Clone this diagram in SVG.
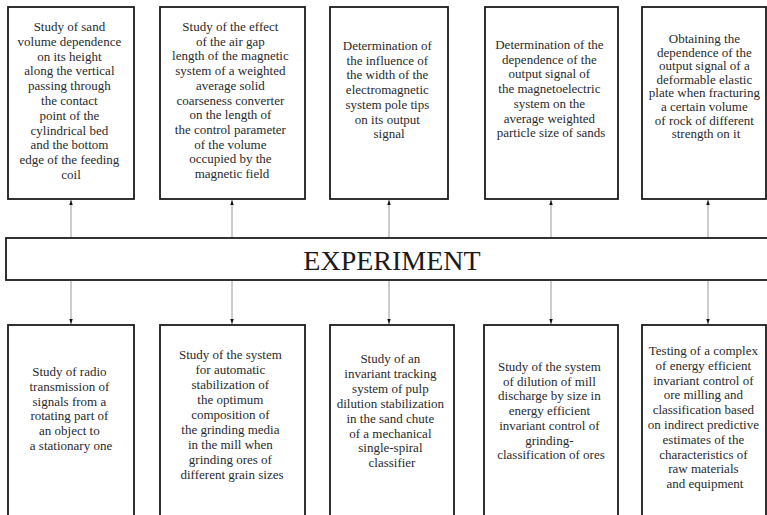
<svg xmlns="http://www.w3.org/2000/svg" width="767" height="515" viewBox="0 0 767 515">
<style>
.box{fill:#fff;stroke:#1c1c1c;stroke-width:1.8}
.t{font-family:"Liberation Serif","Times New Roman",serif;font-size:13px;fill:#2a2a2a;text-anchor:middle}
.big{font-family:"Liberation Serif","Times New Roman",serif;font-size:28px;fill:#1a1a1a;text-anchor:middle}
.c{stroke:#9a9a9a;stroke-width:1;fill:none}
</style>
<defs>
<marker id="ah" viewBox="0 0 10 10" refX="10" refY="5" markerWidth="9" markerHeight="5" markerUnits="userSpaceOnUse" orient="auto">
<path d="M0,1.5 L10,5 L0,8.5 Z" fill="#111"/>
</marker>
</defs>
<rect width="767" height="515" fill="#fff"/>

<g id="connectors">
<line class="c" x1="71" y1="238" x2="71" y2="200" marker-end="url(#ah)"/>
<line class="c" x1="232" y1="238" x2="232" y2="200" marker-end="url(#ah)"/>
<line class="c" x1="389" y1="238" x2="389" y2="200" marker-end="url(#ah)"/>
<line class="c" x1="551" y1="238" x2="551" y2="200" marker-end="url(#ah)"/>
<line class="c" x1="708" y1="238" x2="708" y2="200" marker-end="url(#ah)"/>
<line class="c" x1="71" y1="281" x2="71" y2="324" marker-end="url(#ah)"/>
<line class="c" x1="232" y1="281" x2="232" y2="324" marker-end="url(#ah)"/>
<line class="c" x1="389" y1="281" x2="389" y2="324" marker-end="url(#ah)"/>
<line class="c" x1="551" y1="281" x2="551" y2="324" marker-end="url(#ah)"/>
<line class="c" x1="708" y1="281" x2="708" y2="324" marker-end="url(#ah)"/>
</g>

<g id="experiment">
<rect class="box" x="6" y="238" width="770" height="42"/>
<text class="big" x="392" y="270">EXPERIMENT</text>
</g>

<g id="top1">
<rect class="box" x="8" y="7" width="126" height="192"/>
<text class="t" x="71" y="31">
<tspan x="71" dy="0">Study of sand</tspan>
<tspan x="71" dy="14.8">volume dependence</tspan>
<tspan x="71" dy="14.8">on its height</tspan>
<tspan x="71" dy="14.8">along the vertical</tspan>
<tspan x="71" dy="14.8">passing through</tspan>
<tspan x="71" dy="14.8">the contact</tspan>
<tspan x="71" dy="14.8">point of the</tspan>
<tspan x="71" dy="14.8">cylindrical bed</tspan>
<tspan x="71" dy="14.8">and the bottom</tspan>
<tspan x="71" dy="14.8">edge of the feeding</tspan>
<tspan x="71" dy="14.8">coil</tspan>
</text>
</g>

<g id="top2">
<rect class="box" x="160" y="7" width="145" height="192"/>
<text class="t" x="232" y="31">
<tspan x="232" dy="0">Study of the effect</tspan>
<tspan x="232" dy="14.7">of the air gap</tspan>
<tspan x="232" dy="14.7">length of the magnetic</tspan>
<tspan x="232" dy="14.7">system of a weighted</tspan>
<tspan x="232" dy="14.7">average solid</tspan>
<tspan x="232" dy="14.7">coarseness converter</tspan>
<tspan x="232" dy="14.7">on the length of</tspan>
<tspan x="232" dy="14.7">the control parameter</tspan>
<tspan x="232" dy="14.7">of the volume</tspan>
<tspan x="232" dy="14.7">occupied by the</tspan>
<tspan x="232" dy="14.7">magnetic field</tspan>
</text>
</g>

<g id="top3">
<rect class="box" x="330" y="7" width="118" height="192"/>
<text class="t" x="389" y="50">
<tspan x="389" dy="0">Determination of</tspan>
<tspan x="389" dy="14.7">the influence of</tspan>
<tspan x="389" dy="14.7">the width of the</tspan>
<tspan x="389" dy="14.7">electromagnetic</tspan>
<tspan x="389" dy="14.7">system pole tips</tspan>
<tspan x="389" dy="14.7">on its output</tspan>
<tspan x="389" dy="14.7">signal</tspan>
</text>
</g>

<g id="top4">
<rect class="box" x="485" y="7" width="133" height="192"/>
<text class="t" x="551" y="49">
<tspan x="551" dy="0">Determination of the</tspan>
<tspan x="551" dy="14.7">dependence of the</tspan>
<tspan x="551" dy="14.7">output signal of</tspan>
<tspan x="551" dy="14.7">the magnetoelectric</tspan>
<tspan x="551" dy="14.7">system on the</tspan>
<tspan x="551" dy="14.7">average weighted</tspan>
<tspan x="551" dy="14.7">particle size of sands</tspan>
</text>
</g>

<g id="top5">
<rect class="box" x="642" y="7" width="124" height="192"/>
<text class="t" x="706" y="43">
<tspan x="706" dy="0">Obtaining the</tspan>
<tspan x="706" dy="13.6">dependence of the</tspan>
<tspan x="706" dy="13.6">output signal of a</tspan>
<tspan x="706" dy="13.6">deformable elastic</tspan>
<tspan x="706" dy="13.6">plate when fracturing</tspan>
<tspan x="706" dy="13.6">a certain volume</tspan>
<tspan x="706" dy="13.6">of rock of different</tspan>
<tspan x="706" dy="13.6">strength on it</tspan>
</text>
</g>

<g id="bottom1">
<rect class="box" x="8" y="325" width="126" height="200"/>
<text class="t" x="71" y="376">
<tspan x="71" dy="0">Study of radio</tspan>
<tspan x="71" dy="14.8">transmission of</tspan>
<tspan x="71" dy="14.8">signals from a</tspan>
<tspan x="71" dy="14.8">rotating part of</tspan>
<tspan x="71" dy="14.8">an object to</tspan>
<tspan x="71" dy="14.8">a stationary one</tspan>
</text>
</g>

<g id="bottom2">
<rect class="box" x="160" y="325" width="145" height="200"/>
<text class="t" x="232" y="359">
<tspan x="232" dy="0">Study of the system</tspan>
<tspan x="232" dy="15">for automatic</tspan>
<tspan x="232" dy="15">stabilization of</tspan>
<tspan x="232" dy="15">the optimum</tspan>
<tspan x="232" dy="15">composition of</tspan>
<tspan x="232" dy="15">the grinding media</tspan>
<tspan x="232" dy="15">in the mill when</tspan>
<tspan x="232" dy="15">grinding ores of</tspan>
<tspan x="232" dy="15">different grain sizes</tspan>
</text>
</g>

<g id="bottom3">
<rect class="box" x="330" y="325" width="124" height="200"/>
<text class="t" x="392" y="363">
<tspan x="392" dy="0">Study of an</tspan>
<tspan x="392" dy="14.9">invariant tracking</tspan>
<tspan x="392" dy="14.9">system of pulp</tspan>
<tspan x="392" dy="14.9">dilution stabilization</tspan>
<tspan x="392" dy="14.9">in the sand chute</tspan>
<tspan x="392" dy="14.9">of a mechanical</tspan>
<tspan x="392" dy="14.9">single-spiral</tspan>
<tspan x="392" dy="14.9">classifier</tspan>
</text>
</g>

<g id="bottom4">
<rect class="box" x="484" y="325" width="134" height="200"/>
<text class="t" x="551" y="371">
<tspan x="551" dy="0">Study of the system</tspan>
<tspan x="551" dy="14.7">of dilution of mill</tspan>
<tspan x="551" dy="14.7">discharge by size in</tspan>
<tspan x="551" dy="14.7">energy efficient</tspan>
<tspan x="551" dy="14.7">invariant control of</tspan>
<tspan x="551" dy="14.7">grinding-</tspan>
<tspan x="551" dy="14.7">classification of ores</tspan>
</text>
</g>

<g id="bottom5">
<rect class="box" x="642" y="325" width="124" height="200"/>
<text class="t" x="705" y="355">
<tspan x="705" dy="0">Testing of a complex</tspan>
<tspan x="705" dy="14.8">of energy efficient</tspan>
<tspan x="705" dy="14.8">invariant control of</tspan>
<tspan x="705" dy="14.8">ore milling and</tspan>
<tspan x="705" dy="14.8">classification based</tspan>
<tspan x="705" dy="14.8">on indirect predictive</tspan>
<tspan x="705" dy="14.8">estimates of the</tspan>
<tspan x="705" dy="14.8">characteristics of</tspan>
<tspan x="705" dy="14.8">raw materials</tspan>
<tspan x="705" dy="14.8">and equipment</tspan>
</text>
</g>
</svg>
